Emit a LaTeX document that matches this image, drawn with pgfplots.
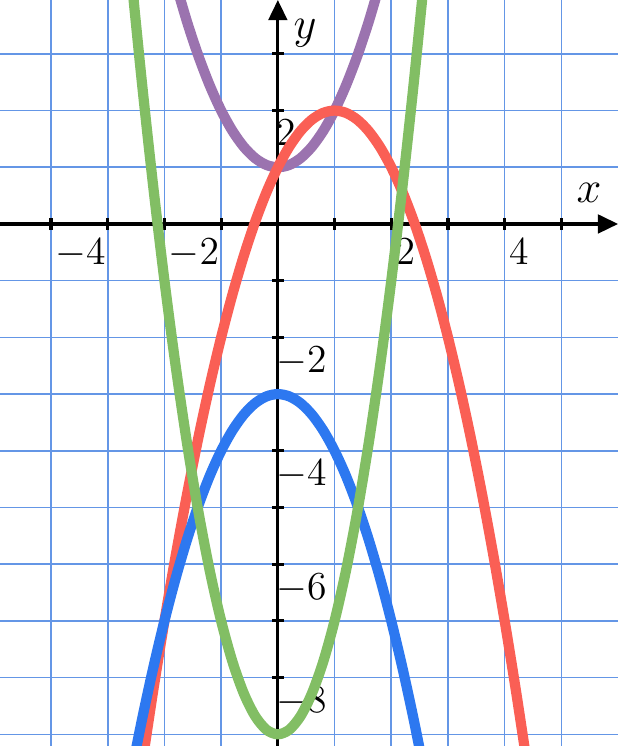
\RequirePackage{fix-cm}
\documentclass[border=0pt]{standalone}
\usepackage{pgfplots}
\pgfplotsset{compat=1.18}
\usetikzlibrary{arrows.meta}

\definecolor{gridblue}{RGB}{100,150,230}
\definecolor{cpurple}{RGB}{155,115,175}
\definecolor{cred}{RGB}{250,95,85}
\definecolor{cblue}{RGB}{45,120,240}
\definecolor{cgreen}{RGB}{130,190,100}

\begin{document}
\begin{tikzpicture}
\begin{axis}[
  x=18.3pt, y=18.3pt,
  xmin=-4.9, xmax=6, ymin=-9.2, ymax=3.95,
  axis lines=middle,
  axis line style={line width=1pt, -{Triangle[length=6.5pt,width=6pt]}},
  xtick={-4,...,5}, ytick={-9,...,3},
  xticklabels={$-4$,{},$-2$,{},{},{},$2$,{},$4$,{}},
  yticklabels={{},$-8$,{},$-6$,{},$-4$,{},$-2$,{},{},{},$2$,{}},
  tick label style={font=\fontsize{12.8}{15}\selectfont},
  xticklabel style={anchor=north west, inner xsep=1.2pt, inner ysep=2.6pt},
  yticklabel style={anchor=north west, inner xsep=1.2pt, inner ysep=2.8pt},
  major tick length=3.9pt, tick align=center,
  tick style={black, line width=1pt},
  grid=major,
  grid style={color=gridblue, line width=0.5pt},
  every axis plot/.append style={line width=3.3pt, smooth},
]
% y = x^2 + 1
\addplot[cpurple] coordinates {
  (-1.8,4.24) (-1.6,3.56) (-1.4,2.96) (-1.2,2.44) (-1.0,2) (-0.8,1.64)
  (-0.6,1.36) (-0.4,1.16) (-0.2,1.04) (0,1) (0.2,1.04) (0.4,1.16)
  (0.6,1.36) (0.8,1.64) (1.0,2) (1.2,2.44) (1.4,2.96) (1.6,3.56) (1.8,4.24)};
% y = 2 - (x-1)^2
\addplot[cred] coordinates {
  (-2.4,-9.56) (-2.2,-8.24) (-2.0,-7) (-1.8,-5.84) (-1.6,-4.76) (-1.4,-3.76)
  (-1.2,-2.84) (-1.0,-2) (-0.8,-1.24) (-0.6,-0.56) (-0.4,0.04) (-0.2,0.56)
  (0,1) (0.2,1.36) (0.4,1.64) (0.6,1.84) (0.8,1.96) (1.0,2) (1.2,1.96)
  (1.4,1.84) (1.6,1.64) (1.8,1.36) (2.0,1) (2.2,0.56) (2.4,0.04) (2.6,-0.56)
  (2.8,-1.24) (3.0,-2) (3.2,-2.84) (3.4,-3.76) (3.6,-4.76) (3.8,-5.84)
  (4.0,-7) (4.2,-8.24) (4.4,-9.56)};
% y = -x^2 - 3
\addplot[cblue] coordinates {
  (-2.6,-9.76) (-2.4,-8.76) (-2.2,-7.84) (-2.0,-7) (-1.8,-6.24) (-1.6,-5.56)
  (-1.4,-4.96) (-1.2,-4.44) (-1.0,-4) (-0.8,-3.64) (-0.6,-3.36) (-0.4,-3.16)
  (-0.2,-3.04) (0,-3) (0.2,-3.04) (0.4,-3.16) (0.6,-3.36) (0.8,-3.64)
  (1.0,-4) (1.2,-4.44) (1.4,-4.96) (1.6,-5.56) (1.8,-6.24) (2.0,-7)
  (2.2,-7.84) (2.4,-8.76) (2.6,-9.76)};
% y = 2x^2 - 9
\addplot[cgreen] coordinates {
  (-2.6,4.52) (-2.4,2.52) (-2.2,0.68) (-2.0,-1) (-1.8,-2.52) (-1.6,-3.88)
  (-1.4,-5.08) (-1.2,-6.12) (-1.0,-7) (-0.8,-7.72) (-0.6,-8.28) (-0.4,-8.68)
  (-0.2,-8.92) (0,-9) (0.2,-8.92) (0.4,-8.68) (0.6,-8.28) (0.8,-7.72)
  (1.0,-7) (1.2,-6.12) (1.4,-5.08) (1.6,-3.88) (1.8,-2.52) (2.0,-1)
  (2.2,0.68) (2.4,2.52) (2.6,4.52)};
\node at (axis cs:5.49,0.55) {\Large $x$};
\node at (axis cs:0.48,3.37) {\Large $y$};
\coordinate (bl) at (axis cs:-4.9,-9.2);
\coordinate (tr) at (axis cs:6,3.95);
\end{axis}
\pgfresetboundingbox
\path ([yshift=-1.4pt]bl) rectangle ([xshift=2.3pt]tr);
\end{tikzpicture}
\end{document}
